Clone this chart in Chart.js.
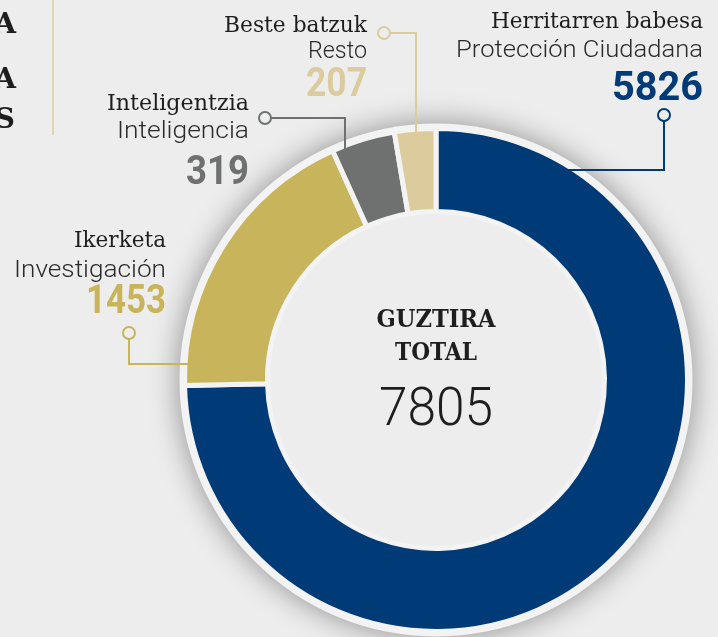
<!DOCTYPE html>
<html>
<head>
<meta charset="utf-8">
<script src="https://cdn.jsdelivr.net/npm/chart.js@4"></script>
<style>
  html, body { margin: 0; padding: 0; background: #ededed; }
  #wrap { width: 718px; height: 637px; position: relative; overflow: hidden; }
</style>
</head>
<body>
<div id="wrap"><canvas id="chart" width="718" height="637"></canvas></div>
<script>
// data
const labelsEu = ['Herritarren babesa', 'Ikerketa', 'Inteligentzia', 'Beste batzuk'];
const labelsEs = ['Protección Ciudadana', 'Investigación', 'Inteligencia', 'Resto'];
const values = [5826, 1453, 319, 207];
const colors = ['#013b77', '#c8b45b', '#6e7170', '#dccb9d'];

const total = values.reduce((a, b) => a + b, 0);

// callout layout: right edge of the text block, baselines, text widths, leader path
const callouts = [
  { x: 703, base: [28, 57, 100], w: [212, 247, 91], path: [[664, 115], [664, 170], [544, 170]] },
  { x: 166, base: [247, 277, 313], w: [92, 152, 80], path: [[129, 333], [129, 364], [249, 364]] },
  { x: 249, base: [110, 138, 184], w: [142, 132, 63], path: [[265, 118], [345, 118], [345, 168]] },
  { x: 367, base: [32, 58, 96], w: [143, 59, 61], path: [[384, 33], [416, 33], [416, 137]] }
];

// draws text squeezed/stretched to a target width
function fitText(ctx, text, x, y, font, color, align, width) {
  ctx.save();
  ctx.font = font;
  ctx.fillStyle = color;
  ctx.textAlign = align;
  ctx.textBaseline = 'alphabetic';
  const w = ctx.measureText(text).width;
  ctx.translate(x, y);
  ctx.scale(width ? width / w : 1, 1);
  ctx.fillText(text, 0, 0);
  ctx.restore();
}

// light rim with soft shadow behind the ring, plain centre
const rimPlugin = {
  id: 'rim',
  beforeDatasetsDraw(chart) {
    const arc = chart.getDatasetMeta(0).data[0];
    if (!arc) return;
    const ctx = chart.ctx;
    ctx.save();
    ctx.shadowColor = 'rgba(0,0,0,0.4)';
    ctx.shadowBlur = 30;
    ctx.beginPath();
    ctx.arc(arc.x, arc.y, arc.outerRadius + 5, 0, Math.PI * 2);
    ctx.fillStyle = '#f3f3f3';
    ctx.fill();
    ctx.restore();
    ctx.save();
    ctx.beginPath();
    ctx.arc(arc.x, arc.y, arc.innerRadius, 0, Math.PI * 2);
    ctx.fillStyle = '#ededed';
    ctx.fill();
    ctx.restore();
  }
};

const labelPlugin = {
  id: 'labels',
  afterDraw(chart) {
    const ctx = chart.ctx;
    const arc = chart.getDatasetMeta(0).data[0];

    // cut-off text at top left and the divider line
    ctx.save();
    ctx.strokeStyle = '#dccb9d';
    ctx.lineWidth = 1.5;
    ctx.beginPath();
    ctx.moveTo(53, 0);
    ctx.lineTo(53, 135);
    ctx.stroke();
    ctx.restore();
    fitText(ctx, 'A', 16, 33, 'bold 28px "DejaVu Serif"', '#1e1e1e', 'right');
    fitText(ctx, 'A', 16, 88, 'bold 28px "DejaVu Serif"', '#1e1e1e', 'right');
    fitText(ctx, 'S', 15, 128, 'bold 28px "DejaVu Serif"', '#1e1e1e', 'right');

    callouts.forEach((c, i) => {
      ctx.save();
      ctx.strokeStyle = colors[i];
      ctx.lineWidth = 2;
      ctx.beginPath();
      c.path.forEach((p, k) => k ? ctx.lineTo(p[0], p[1]) : ctx.moveTo(p[0], p[1]));
      ctx.stroke();
      ctx.beginPath();
      ctx.arc(c.path[0][0], c.path[0][1], 6, 0, Math.PI * 2);
      ctx.fillStyle = '#ededed';
      ctx.fill();
      ctx.stroke();
      ctx.restore();

      fitText(ctx, labelsEu[i], c.x, c.base[0], '23px "DejaVu Serif"', '#1e1e1e', 'right', c.w[0]);
      fitText(ctx, labelsEs[i], c.x, c.base[1], '300 23px Roboto', '#2a2a2a', 'right', c.w[1]);
      fitText(ctx, String(values[i]), c.x, c.base[2], 'bold 40px Roboto', colors[i], 'right', c.w[2]);
    });

    // centre total
    if (arc) {
      fitText(ctx, 'GUZTIRA', arc.x, 327, 'bold 24px "DejaVu Serif"', '#1e1e1e', 'center', 119);
      fitText(ctx, 'TOTAL', arc.x, 360, 'bold 24px "DejaVu Serif"', '#1e1e1e', 'center', 82);
      fitText(ctx, String(total), arc.x, 425, '300 54px Roboto', '#1e1e1e', 'center', 114);
    }
  }
};

new Chart(document.getElementById('chart'), {
  type: 'doughnut',
  data: {
    labels: labelsEu,
    datasets: [{
      data: values,
      backgroundColor: colors,
      borderColor: '#f3f3f3',
      borderWidth: 5,
      hoverOffset: 0
    }]
  },
  options: {
    responsive: false,
    animation: false,
    cutout: '67%',
    rotation: 0,
    layout: { padding: { left: 182, right: 28, top: 126, bottom: 3 } },
    plugins: {
      legend: { display: false },
      tooltip: { enabled: false }
    }
  },
  plugins: [rimPlugin, labelPlugin]
});
</script>
</body>
</html>
